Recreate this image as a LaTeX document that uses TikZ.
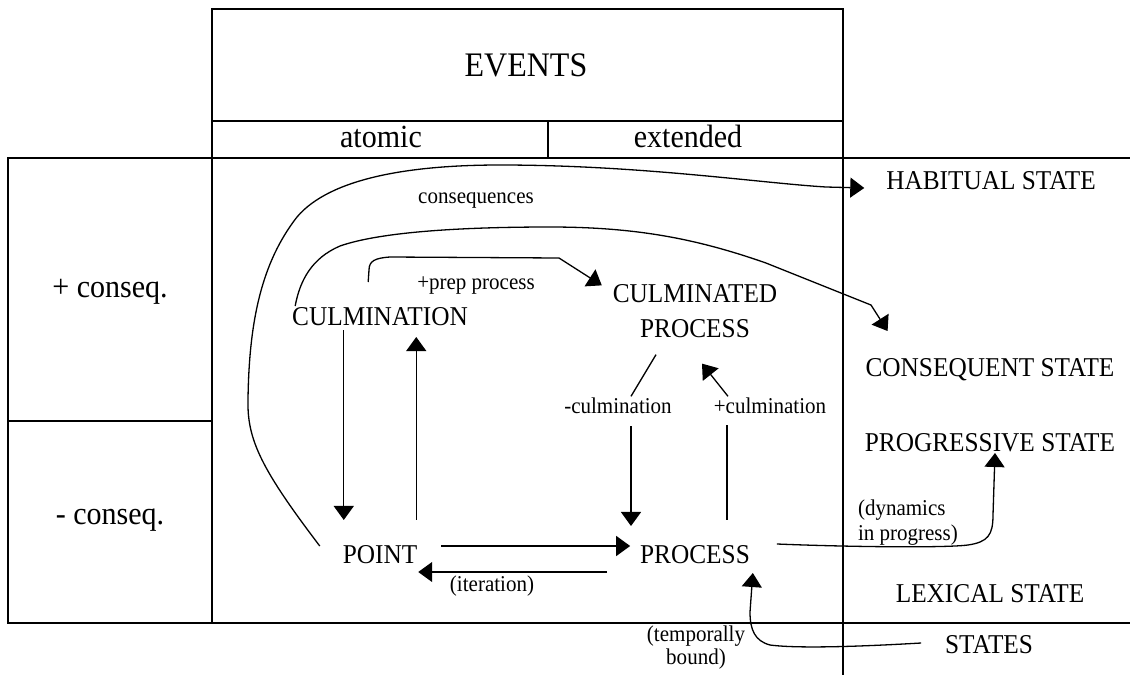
\documentclass[tikz,border=0pt]{standalone}
\usepackage{fontspec}
\setmainfont{Liberation Serif}[FakeStretch=0.93]
\usetikzlibrary{arrows.meta,calc}
\begin{document}
\begin{tikzpicture}[x=1pt,y=-1pt,
  every node/.style={inner sep=0pt,outer sep=0pt},
  frame/.style={line width=2.1pt,line join=miter},
  conn/.style={line width=1.3pt},
  arr/.style={conn,-{Triangle[width=20pt,length=14pt]}},
  big/.style={font=\fontsize{34.4}{40}\selectfont},
  head/.style={font=\fontsize{32.3}{38}\selectfont},
  lab/.style={font=\fontsize{27.2}{35}\selectfont},
  small/.style={font=\fontsize{22.6}{25}\selectfont}]
\useasboundingbox (0,0) rectangle (1130,675);

% table frame
\draw[frame] (212,9) rectangle (843,158);
\draw[frame] (212,121) -- (843,121) (548,121) -- (548,158);
\draw[frame] (1130,158) -- (8,158) -- (8,623) -- (1130,623);
\draw[frame] (212,158) -- (212,623) (843,158) -- (843,675) (8,421) -- (212,421);

% headings
\node[big,anchor=base] (events) at (526,76) {EVENTS};
\node[head,anchor=base] (atomic) at (381,147) {atomic};
\node[head,anchor=base] (extended) at (688,147) {extended};
\node[head,anchor=base] (pluscq) at (110,297) {+ conseq.};
\node[head,anchor=base] (minuscq) at (110,524) {- conseq.};

% event types
\node[lab,anchor=base] (culmination) at (380,325) {CULMINATION};
\node[lab,align=center] (culminated) at (695,311) {CULMINATED\\PROCESS};
\node[lab,anchor=base] (point) at (380,563) {POINT};
\node[lab,anchor=base] (process) at (695,563) {PROCESS};

% states
\node[lab,anchor=base] (habitual) at (991,189) {HABITUAL STATE};
\node[lab,anchor=base] (consequent) at (990,376) {CONSEQUENT STATE};
\node[lab,anchor=base] (progressive) at (990,451) {PROGRESSIVE STATE};
\node[lab,anchor=base] (lexical) at (990,602) {LEXICAL STATE};
\node[lab,anchor=base] (states) at (989,653) {STATES};

% edge labels
\node[small,anchor=base] (consequences) at (476,203) {consequences};
\node[small,anchor=base] (prep) at (476,289) {+prep process};
\node[small,anchor=base] (cminus) at (618,413) {-culmination};
\node[small,anchor=base] (cplus) at (770,413) {+culmination};
\node[small,anchor=base] (iteration) at (492,591) {(iteration)};
\node[small,align=left,anchor=north west] (dynamics) at (858,500) {(dynamics\\in progress)};
\node[small,align=center,anchor=north,font=\fontsize{22.6}{23}\selectfont] (temporally) at (696,626) {(temporally\\bound)};

% consequences: point -> habitual state
\draw[arr] ($(point.base west)+(-23,-17)$)
  .. controls (262,470) and (247,440) .. (248,400)
  .. controls (249,320) and (262,262) .. (297,217)
  .. controls (330,178) and (410,165) .. (500,165)
  .. controls (640,165) and (760,183) .. (826,187)
  -- ($(habitual.base west)+(-22,-1)$);

% culmination -> consequent state
\draw[arr] ($(culmination.base west)+(3,-19)$)
  .. controls (300,280) and (312,258) .. (340,246)
  .. controls (380,232) and (460,227) .. (550,227)
  .. controls (640,227) and (700,240) .. (766,263)
  -- (871,305)
  -- ($(consequent.base west)+(22,-45)$);

% +prep process
\draw[arr] ($(culmination.base west)+(76,-43)$) -- (369,270)
  .. controls (369,261) and (375,258) .. (390,257) -- (559,258)
  -- ($(culminated.north west)+(-11,1)$);

% culmination <-> point
\draw[arr] ($(culmination.base -| point.west)+(1,5)$) -- ($(point.north west)+(1,-25)$);
\draw[arr] ($(point.north east)+(-1,-25)$) -- ($(culmination.base -| point.east)+(-1,12)$);

% point <-> process
\draw[arr] ($(point.north east)+(24,1)$) -- ($(process.north west)+(-10,1)$);
\draw[arr] ($(process.base west)+(-33,9)$) -- ($(point.base east)+(1,9)$);

% -culmination
\draw[conn] ($(culminated.south)+(-39,17)$) -- ($(cminus.north)+(13,-1)$);
\draw[arr] ($(cminus.base)+(13,13)$) -- ($(process.north)+(-64,-19)$);

% +culmination
\draw[conn] ($(process.north)+(32,-25)$) -- ($(cplus.base)+(-43,12)$);
\draw[arr] ($(cplus.north)+(-42,-1)$) -- ($(culminated.south)+(7,26)$);

% process -> progressive state
\draw[arr] ($(process.north east)+(27,-1)$)
  .. controls (850,547) and (945,548) .. (968,545)
  .. controls (988,542) and (993,535) .. (993,515)
  -- ($(progressive.base)+(5,2)$);

% states -> process
\draw[arr] ($(states.base west)+(-24,-10)$)
  .. controls (870,646) and (800,649) .. (770,645)
  .. controls (755,641) and (750,630) .. (750,612)
  -- ($(process.base east)+(3,10)$);
\end{tikzpicture}
\end{document}
